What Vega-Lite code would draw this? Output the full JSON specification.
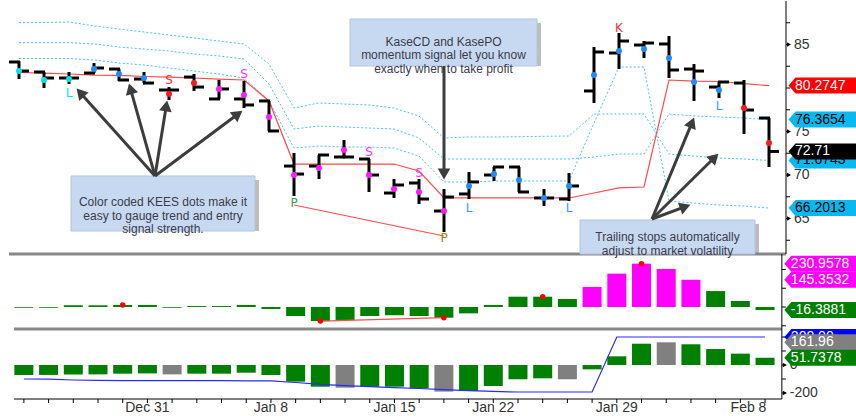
{
  "$schema": "https://vega.github.io/schema/vega-lite/v6.json",
  "background": "white",
  "padding": {"left": 7, "right": 0, "top": 0, "bottom": 0},
  "spacing": 0,
  "bounds": "flush",
  "config": {"view": {"stroke": null}, "font": "Liberation Sans"},
  "datasets": {
    "bars": [
      {"i":0,"o":82.99,"h":83.10,"l":81.03,"c":81.95,"kd":81.95,"ks":"c","po":-4,"ps":"g","cd":-71,"cs":"g","stop":81.78,"b1":87.51,"b2":85.21,"b3":83.39,"cdl":-100},
      {"i":1,"o":81.84,"h":81.84,"l":80.00,"c":81.15,"kd":80.92,"ks":"c","po":-4,"ps":"g","cd":-71,"cs":"g","stop":81.72,"b1":87.53,"b2":85.21,"b3":83.39,"cdl":-101},
      {"i":2,"o":81.15,"h":81.84,"l":80.46,"c":81.15,"kd":81.03,"ks":"c","po":9,"ps":"g","cd":-67,"cs":"g","stop":81.61,"b1":87.59,"b2":85.21,"b3":83.39,"cdl":-107},
      {"i":3,"o":81.72,"h":82.87,"l":81.72,"c":82.30,"kd":82.18,"ks":"b","po":9,"ps":"g","cd":-67,"cs":"g","stop":81.49,"b1":87.13,"b2":85.06,"b3":83.22,"cdl":-110},
      {"i":4,"o":82.18,"h":82.18,"l":80.80,"c":80.92,"kd":81.61,"ks":"b","po":11,"ps":"g","cd":-62,"cs":"g","stop":81.44,"b1":86.78,"b2":84.71,"b3":82.87,"cdl":-111},
      {"i":5,"o":81.03,"h":81.84,"l":80.57,"c":80.57,"kd":81.15,"ks":"b","po":11,"ps":"g","cd":-60,"cs":"g","stop":81.32,"b1":86.44,"b2":84.48,"b3":82.64,"cdl":-111},
      {"i":6,"o":79.77,"h":80.11,"l":78.62,"c":79.77,"kd":79.31,"ks":"r","po":-4,"ps":"g","cd":-67,"cs":"n","stop":81.26,"b1":86.09,"b2":84.25,"b3":82.30,"cdl":-111},
      {"i":7,"o":81.26,"h":81.61,"l":79.66,"c":80.11,"kd":80.57,"ks":"r","po":5,"ps":"g","cd":-62,"cs":"g","stop":81.15,"b1":85.75,"b2":83.91,"b3":81.95,"cdl":-112},
      {"i":8,"o":78.74,"h":80.92,"l":78.74,"c":79.89,"kd":79.89,"ks":"m","po":5,"ps":"g","cd":-62,"cs":"g","stop":81.03,"b1":85.40,"b2":83.68,"b3":81.61,"cdl":-112},
      {"i":9,"o":78.74,"h":80.80,"l":77.70,"c":78.05,"kd":79.20,"ks":"m","po":11,"ps":"g","cd":-55,"cs":"g","stop":80.92,"b1":85.06,"b2":83.33,"b3":81.15,"cdl":-113},
      {"i":10,"o":78.51,"h":78.51,"l":75.06,"c":75.06,"kd":76.67,"ks":"m","po":-11,"ps":"g","cd":-71,"cs":"g","stop":78.51,"b1":82.76,"b2":80.46,"b3":78.51,"cdl":-114},
      {"i":11,"o":71.03,"h":72.53,"l":67.59,"c":70.11,"kd":70.00,"ks":"m","po":-48,"ps":"g","cd":-119,"cs":"g","stop":71.26,"b1":77.70,"b2":75.29,"b3":73.10,"cdl":-125},
      {"i":12,"o":71.03,"h":72.30,"l":69.54,"c":72.30,"kd":70.80,"ks":"m","po":-75,"ps":"g","cd":-155,"cs":"g","stop":71.26,"b1":78.28,"b2":75.63,"b3":73.33,"cdl":-138},
      {"i":13,"o":72.07,"h":74.02,"l":71.95,"c":72.07,"kd":72.87,"ks":"m","po":-69,"ps":"g","cd":-162,"cs":"n","stop":71.26,"b1":78.16,"b2":75.52,"b3":73.22,"cdl":-147},
      {"i":14,"o":71.84,"h":71.84,"l":68.05,"c":70.00,"kd":70.00,"ks":"m","po":-48,"ps":"g","cd":-155,"cs":"g","stop":71.26,"b1":78.05,"b2":75.40,"b3":73.22,"cdl":-155},
      {"i":15,"o":67.93,"h":69.54,"l":67.36,"c":68.85,"kd":68.39,"ks":"m","po":-44,"ps":"g","cd":-155,"cs":"g","stop":71.26,"b1":77.70,"b2":75.29,"b3":73.10,"cdl":-162},
      {"i":16,"o":69.08,"h":69.54,"l":66.67,"c":67.24,"kd":68.05,"ks":"m","po":-48,"ps":"g","cd":-167,"cs":"g","stop":70.46,"b1":76.78,"b2":74.25,"b3":72.18,"cdl":-168},
      {"i":17,"o":65.86,"h":68.39,"l":63.45,"c":67.47,"kd":65.86,"ks":"m","po":-57,"ps":"g","cd":-190,"cs":"n","stop":67.36,"b1":74.25,"b2":71.84,"b3":69.20,"cdl":-176},
      {"i":18,"o":67.82,"h":70.34,"l":67.24,"c":69.20,"kd":68.74,"ks":"b","po":-34,"ps":"g","cd":-186,"cs":"g","stop":67.36,"b1":74.37,"b2":71.84,"b3":69.20,"cdl":-183},
      {"i":19,"o":70.00,"h":70.92,"l":69.31,"c":70.92,"kd":70.11,"ks":"b","po":11,"ps":"g","cd":-150,"cs":"g","stop":67.36,"b1":74.37,"b2":71.84,"b3":69.31,"cdl":-189},
      {"i":20,"o":70.92,"h":70.92,"l":68.05,"c":68.05,"kd":69.43,"ks":"b","po":55,"ps":"g","cd":-102,"cs":"g","stop":67.36,"b1":74.40,"b2":71.84,"b3":69.31,"cdl":-193},
      {"i":21,"o":67.36,"h":68.39,"l":66.44,"c":67.36,"kd":67.36,"ks":"b","po":55,"ps":"g","cd":-95,"cs":"g","stop":67.36,"b1":74.45,"b2":71.84,"b3":69.31,"cdl":-193},
      {"i":22,"o":67.24,"h":70.23,"l":67.01,"c":68.74,"kd":68.74,"ks":"b","po":43,"ps":"g","cd":-102,"cs":"n","stop":67.36,"b1":74.48,"b2":71.84,"b3":69.31,"cdl":-193},
      {"i":23,"o":79.66,"h":84.71,"l":78.28,"c":84.14,"kd":81.49,"ks":"b","po":107,"ps":"m","cd":-31,"cs":"g","stop":67.93,"b1":77.01,"b2":72.07,"b3":75.98,"cdl":-193},
      {"i":24,"o":84.02,"h":86.32,"l":82.18,"c":85.40,"kd":84.25,"ks":"b","po":178,"ps":"m","cd":62,"cs":"g","stop":68.51,"b1":77.01,"b2":72.41,"b3":82.41,"cdl":200},
      {"i":25,"o":84.94,"h":85.40,"l":83.45,"c":85.17,"kd":84.48,"ks":"b","po":230.96,"ps":"m","cd":152,"cs":"g","stop":68.62,"b1":77.01,"b2":72.41,"b3":82.41,"cdl":200},
      {"i":26,"o":85.06,"h":85.98,"l":81.15,"c":82.07,"kd":83.45,"ks":"b","po":203,"ps":"m","cd":161.96,"cs":"n","stop":80.92,"b1":72.41,"b2":77.01,"b3":67.01,"cdl":200},
      {"i":27,"o":82.18,"h":82.76,"l":78.51,"c":81.95,"kd":80.69,"ks":"b","po":145.35,"ps":"m","cd":148,"cs":"g","stop":80.80,"b1":72.18,"b2":76.78,"b3":66.78,"cdl":200},
      {"i":28,"o":80.11,"h":80.69,"l":78.85,"c":80.69,"kd":79.77,"ks":"b","po":85,"ps":"g","cd":114,"cs":"g","stop":80.75,"b1":71.95,"b2":76.67,"b3":66.55,"cdl":200},
      {"i":29,"o":80.57,"h":80.92,"l":74.71,"c":77.47,"kd":77.70,"ks":"r","po":32,"ps":"g","cd":81,"cs":"g","stop":80.50,"b1":71.84,"b2":76.55,"b3":66.44,"cdl":200},
      {"i":30,"o":76.55,"h":76.55,"l":70.92,"c":72.71,"kd":73.68,"ks":"r","po":-16.39,"ps":"g","cd":51.74,"cs":"g","stop":80.27,"b1":71.67,"b2":76.37,"b3":66.20,"cdl":200}
    ],
    "letters": [
      {"i":2,"v":79.43,"t":"L","k":"Lc"},{"i":6,"v":80.92,"t":"S","k":"Sr"},{"i":9,"v":81.61,"t":"S","k":"Sm"},
      {"i":11,"v":66.78,"t":"P","k":"Pg"},{"i":14,"v":72.64,"t":"S","k":"Sm"},{"i":16,"v":70.23,"t":"S","k":"Sm"},
      {"i":17,"v":62.76,"t":"P","k":"Po"},{"i":18,"v":66.21,"t":"L","k":"Lb"},{"i":22,"v":66.21,"t":"L","k":"Lb"},
      {"i":24,"v":86.9,"t":"K","k":"Kr"},{"i":28,"v":77.93,"t":"L","k":"Lb"}
    ],
    "pline1": [{"i":11,"v":66.55},{"i":17,"v":62.99}],
    "pline2": [{"i":12,"v":-75},{"i":17,"v":-57}],
    "podots": [{"i":4,"v":11},{"i":12,"v":-75},{"i":17,"v":-57},{"i":21,"v":55},{"i":25,"v":230.96}],
    "tags1": [
      {"v":80.2747,"lbl":"80.2747","k":"stop"},{"v":76.3654,"lbl":"76.3654","k":"band"},
      {"v":71.6743,"lbl":"71.6743","k":"band"},{"v":66.2013,"lbl":"66.2013","k":"band"},
      {"v":72.71,"lbl":"72.71","k":"close"}
    ],
    "tags2": [
      {"v":230.9578,"lbl":"230.9578","k":"pom"},{"v":145.3532,"lbl":"145.3532","k":"pom"},{"v":-16.3881,"lbl":"-16.3881","k":"pog"}
    ],
    "tags3": [
      {"v":200,"lbl":"200.00","k":"cdl"},{"v":161.96,"lbl":"161.96","k":"cdn"},{"v":51.7378,"lbl":"51.7378","k":"cdg"}
    ],
    "yt1": [
      {"v":62.5,"lbl":""},{"v":65,"lbl":"65"},{"v":67.5,"lbl":""},{"v":70,"lbl":"70"},{"v":72.5,"lbl":""},{"v":75,"lbl":"75"},
      {"v":77.5,"lbl":""},{"v":80,"lbl":""},{"v":82.5,"lbl":""},{"v":85,"lbl":"85"},{"v":87.5,"lbl":""}
    ],
    "yt2": [{"v":-100,"lbl":""},{"v":0,"lbl":""},{"v":100,"lbl":""},{"v":200,"lbl":""}],
    "yt3": [{"v":-200,"lbl":"-200"},{"v":-100,"lbl":""},{"v":0,"lbl":"0"},{"v":100,"lbl":""},{"v":200,"lbl":""}],
    "xt": [
      {"i":0},{"i":1},{"i":2},{"i":3},{"i":4},{"i":5},{"i":6},{"i":7},{"i":8},{"i":9},{"i":10},{"i":11},{"i":12},{"i":13},{"i":14},{"i":15},
      {"i":16},{"i":17},{"i":18},{"i":19},{"i":20},{"i":21},{"i":22},{"i":23},{"i":24},{"i":25},{"i":26},{"i":27},{"i":28},{"i":29},{"i":30}
    ],
    "xl": [
      {"i":5,"lbl":"Dec 31"},{"i":10,"lbl":"Jan 8"},{"i":15,"lbl":"Jan 15"},{"i":19,"lbl":"Jan 22"},{"i":24,"lbl":"Jan 29"},{"i":29.33,"lbl":"Feb 8"}
    ],
    "boxes": [
      {"i":2.08,"i2":9.44,"v":69.89,"v2":63.56},
      {"i":13.24,"i2":20.72,"v":87.93,"v2":82.53},
      {"i":22.44,"i2":29.44,"v":64.83,"v2":60.92}
    ],
    "btext": [
      {"i":5.76,"v":66.84,"t":"Color coded KEES dots make it\neasy to gauge trend and entry\nsignal strength."},
      {"i":16.98,"v":85.29,"t":"KaseCD and KasePO\nmomentum signal let you know\nexactly when to take profit"},
      {"i":25.94,"v":62.82,"t":"Trailing stops automatically\nadjust to market volatility"}
    ],
    "arrows": [
      {"i":5.44,"v":69.89,"i2":2.45,"v2":79.46},
      {"i":5.44,"v":69.89,"i2":4.46,"v2":79.91},
      {"i":5.44,"v":69.89,"i2":5.89,"v2":77.94},
      {"i":5.44,"v":69.89,"i2":8.76,"v2":77.01},
      {"i":17,"v":82.53,"i2":17,"v2":70.11},
      {"i":25.32,"v":64.94,"i2":26.92,"v2":76.02},
      {"i":25.32,"v":64.94,"i2":27.82,"v2":72.01},
      {"i":25.32,"v":64.94,"i2":26.65,"v2":66.36}
    ],
    "heads": [
      {"id":1,"i":2.45,"v":79.46},{"id":2,"i":4.46,"v":79.91},{"id":3,"i":5.89,"v":77.94},{"id":4,"i":8.76,"v":77.01},
      {"id":5,"i":17,"v":70.11},{"id":6,"i":26.92,"v":76.02},{"id":7,"i":27.82,"v":72.01},{"id":8,"i":26.65,"v":66.36}
    ]
  },
  "vconcat": [
    {
      "width": 849, "height": 253,
      "layer": [
        {"data":{"name":"bars"},"mark":{"type":"line","color":"#46c4f0","strokeWidth":1,"strokeDash":[2,2]},
         "encoding":{"x":{"field":"i","type":"quantitative","scale":{"domain":[-0.4,33.56],"nice":false,"zero":false},"axis":null},
           "y":{"field":"b1","type":"quantitative","scale":{"domain":[60.92,90],"nice":false,"zero":false},"axis":null}}},
        {"data":{"name":"bars"},"mark":{"type":"line","color":"#46c4f0","strokeWidth":1,"strokeDash":[2,2]},
         "encoding":{"x":{"field":"i","type":"quantitative","scale":{"domain":[-0.4,33.56],"nice":false,"zero":false},"axis":null},
           "y":{"field":"b2","type":"quantitative","scale":{"domain":[60.92,90],"nice":false,"zero":false},"axis":null}}},
        {"data":{"name":"bars"},"mark":{"type":"line","color":"#46c4f0","strokeWidth":1,"strokeDash":[2,2]},
         "encoding":{"x":{"field":"i","type":"quantitative","scale":{"domain":[-0.4,33.56],"nice":false,"zero":false},"axis":null},
           "y":{"field":"b3","type":"quantitative","scale":{"domain":[60.92,90],"nice":false,"zero":false},"axis":null}}},
        {"data":{"name":"bars"},"mark":{"type":"line","color":"#ff4a4a","strokeWidth":1.2},
         "encoding":{"x":{"field":"i","type":"quantitative","scale":{"domain":[-0.4,33.56],"nice":false,"zero":false},"axis":null},
           "y":{"field":"stop","type":"quantitative","scale":{"domain":[60.92,90],"nice":false,"zero":false},"axis":null}}},
        {"data":{"name":"pline1"},"mark":{"type":"line","color":"#ff4a4a","strokeWidth":1.2},
         "encoding":{"x":{"field":"i","type":"quantitative","scale":{"domain":[-0.4,33.56],"nice":false,"zero":false},"axis":null},
           "y":{"field":"v","type":"quantitative","scale":{"domain":[60.92,90],"nice":false,"zero":false},"axis":null}}},
        {"data":{"name":"bars"},"mark":{"type":"rule","color":"#000000","strokeWidth":3},
         "encoding":{"x":{"field":"i","type":"quantitative","scale":{"domain":[-0.4,33.56],"nice":false,"zero":false},"axis":null},
           "y":{"field":"h","type":"quantitative","scale":{"domain":[60.92,90],"nice":false,"zero":false},"axis":null},"y2":{"field":"l"}}},
        {"data":{"name":"bars"},"mark":{"type":"rule","color":"#000000","strokeWidth":3,"xOffset":-10,"x2Offset":1},
         "encoding":{"x":{"field":"i","type":"quantitative","scale":{"domain":[-0.4,33.56],"nice":false,"zero":false},"axis":null},"x2":{"field":"i"},
           "y":{"field":"o","type":"quantitative","scale":{"domain":[60.92,90],"nice":false,"zero":false},"axis":null}}},
        {"data":{"name":"bars"},"mark":{"type":"rule","color":"#000000","strokeWidth":3,"xOffset":-1,"x2Offset":10},
         "encoding":{"x":{"field":"i","type":"quantitative","scale":{"domain":[-0.4,33.56],"nice":false,"zero":false},"axis":null},"x2":{"field":"i"},
           "y":{"field":"c","type":"quantitative","scale":{"domain":[60.92,90],"nice":false,"zero":false},"axis":null}}},
        {"data":{"name":"bars"},"mark":{"type":"point","filled":true,"size":36,"opacity":1},
         "encoding":{"x":{"field":"i","type":"quantitative","scale":{"domain":[-0.4,33.56],"nice":false,"zero":false},"axis":null},
           "y":{"field":"kd","type":"quantitative","scale":{"domain":[60.92,90],"nice":false,"zero":false},"axis":null},
           "color":{"field":"ks","type":"nominal","scale":{"domain":["c","b","r","m"],"range":["#00e1f0","#1e8cff","#ff1a1a","#ff1aff"]},"legend":null}}},
        {"data":{"name":"letters"},"mark":{"type":"text","font":"DejaVu Sans","fontSize":12,"baseline":"middle","align":"center"},
         "encoding":{"x":{"field":"i","type":"quantitative","scale":{"domain":[-0.4,33.56],"nice":false,"zero":false},"axis":null},
           "y":{"field":"v","type":"quantitative","scale":{"domain":[60.92,90],"nice":false,"zero":false},"axis":null},"text":{"field":"t"},
           "color":{"field":"k","type":"nominal","scale":{"domain":["Lc","Sr","Sm","Pg","Po","Lb","Kr"],"range":["#00e5ff","#ff3030","#ff33ff","#3c9c3c","#8c8c14","#3399ff","#ff3030"]},"legend":null}}},
        {"data":{"values":[{}]},"mark":{"type":"rule","color":"#888888","strokeWidth":3},
         "encoding":{"x":{"datum":-0.4,"type":"quantitative","scale":{"domain":[-0.4,33.56],"nice":false,"zero":false},"axis":null},"x2":{"datum":30.68},
           "y":{"datum":60.92,"type":"quantitative","scale":{"domain":[60.92,90],"nice":false,"zero":false},"axis":null}}},
        {"data":{"values":[{}]},"mark":{"type":"rule","color":"#000000","strokeWidth":1},
         "encoding":{"x":{"datum":30.68,"type":"quantitative","scale":{"domain":[-0.4,33.56],"nice":false,"zero":false},"axis":null},
           "y":{"datum":60.92,"type":"quantitative","scale":{"domain":[60.92,90],"nice":false,"zero":false},"axis":null},"y2":{"datum":90}}},
        {"data":{"name":"yt1"},"mark":{"type":"rule","color":"#000000","strokeWidth":1,"x2Offset":4},
         "encoding":{"x":{"datum":30.68,"type":"quantitative","scale":{"domain":[-0.4,33.56],"nice":false,"zero":false},"axis":null},"x2":{"datum":30.68},
           "y":{"field":"v","type":"quantitative","scale":{"domain":[60.92,90],"nice":false,"zero":false},"axis":null}}},
        {"data":{"name":"yt1"},"transform":[{"filter":"datum.lbl != ''"}],"mark":{"type":"point","shape":"triangle-right","filled":true,"size":22,"color":"#000000","opacity":1,"xOffset":3},
         "encoding":{"x":{"datum":30.68,"type":"quantitative","scale":{"domain":[-0.4,33.56],"nice":false,"zero":false},"axis":null},
           "y":{"field":"v","type":"quantitative","scale":{"domain":[60.92,90],"nice":false,"zero":false},"axis":null}}},
        {"data":{"name":"yt1"},"transform":[{"filter":"datum.lbl != ''"}],"mark":{"type":"text","align":"left","baseline":"middle","dx":8,"font":"Liberation Sans","fontSize":14,"color":"#333333"},
         "encoding":{"x":{"datum":30.68,"type":"quantitative","scale":{"domain":[-0.4,33.56],"nice":false,"zero":false},"axis":null},
           "y":{"field":"v","type":"quantitative","scale":{"domain":[60.92,90],"nice":false,"zero":false},"axis":null},"text":{"field":"lbl"}}},
        {"data":{"name":"tags1"},"transform":[{"filter":"datum.k != 'close'"}],"mark":{"type":"point","shape":"M0.25,0 L0.95,-0.8 L8,-0.8 L8,0.8 L0.95,0.8 Z","filled":true,"size":400,"opacity":1,"strokeWidth":0},
         "encoding":{"x":{"datum":30.68,"type":"quantitative","scale":{"domain":[-0.4,33.56],"nice":false,"zero":false},"axis":null},
           "y":{"field":"v","type":"quantitative","scale":{"domain":[60.92,90],"nice":false,"zero":false},"axis":null},
           "color":{"field":"k","type":"nominal","scale":{"domain":["stop","band","close"],"range":["#ff0000","#08b8f0","#000000"]},"legend":null}}},
        {"data":{"name":"tags1"},"transform":[{"filter":"datum.k != 'close'"}],"mark":{"type":"text","align":"left","baseline":"middle","dx":9,"font":"Liberation Sans","fontSize":14},
         "encoding":{"x":{"datum":30.68,"type":"quantitative","scale":{"domain":[-0.4,33.56],"nice":false,"zero":false},"axis":null},
           "y":{"field":"v","type":"quantitative","scale":{"domain":[60.92,90],"nice":false,"zero":false},"axis":null},"text":{"field":"lbl"},
           "color":{"field":"k","type":"nominal","scale":{"domain":["stop","band","close"],"range":["#ffffff","#000000","#ffffff"]},"legend":null}}},
        {"data":{"name":"tags1"},"transform":[{"filter":"datum.k == 'close'"}],"mark":{"type":"point","shape":"M0.25,0 L0.95,-0.8 L8,-0.8 L8,0.8 L0.95,0.8 Z","filled":true,"size":400,"opacity":1,"strokeWidth":0,"color":"#000000"},
         "encoding":{"x":{"datum":30.68,"type":"quantitative","scale":{"domain":[-0.4,33.56],"nice":false,"zero":false},"axis":null},
           "y":{"field":"v","type":"quantitative","scale":{"domain":[60.92,90],"nice":false,"zero":false},"axis":null}}},
        {"data":{"name":"tags1"},"transform":[{"filter":"datum.k == 'close'"}],"mark":{"type":"text","align":"left","baseline":"middle","dx":9,"font":"Liberation Sans","fontSize":14,"color":"#ffffff"},
         "encoding":{"x":{"datum":30.68,"type":"quantitative","scale":{"domain":[-0.4,33.56],"nice":false,"zero":false},"axis":null},
           "y":{"field":"v","type":"quantitative","scale":{"domain":[60.92,90],"nice":false,"zero":false},"axis":null},"text":{"field":"lbl"}}},
        {"data":{"name":"boxes"},"mark":{"type":"rect","fill":"#7a7a7a","opacity":0.5,"xOffset":4,"x2Offset":4,"yOffset":4,"y2Offset":0},
         "encoding":{"x":{"field":"i","type":"quantitative","scale":{"domain":[-0.4,33.56],"nice":false,"zero":false},"axis":null},"x2":{"field":"i2"},
           "y":{"field":"v","type":"quantitative","scale":{"domain":[60.92,90],"nice":false,"zero":false},"axis":null},"y2":{"field":"v2"}}},
        {"data":{"name":"boxes"},"mark":{"type":"rect","fill":"#c6d9f1","stroke":"#b2c6e0","strokeWidth":1},
         "encoding":{"x":{"field":"i","type":"quantitative","scale":{"domain":[-0.4,33.56],"nice":false,"zero":false},"axis":null},"x2":{"field":"i2"},
           "y":{"field":"v","type":"quantitative","scale":{"domain":[60.92,90],"nice":false,"zero":false},"axis":null},"y2":{"field":"v2"}}},
        {"data":{"name":"btext"},"mark":{"type":"text","font":"Liberation Sans","fontSize":12,"color":"#3b3b4a","lineBreak":"\n","lineHeight":13.5,"align":"center","baseline":"middle"},
         "encoding":{"x":{"field":"i","type":"quantitative","scale":{"domain":[-0.4,33.56],"nice":false,"zero":false},"axis":null},
           "y":{"field":"v","type":"quantitative","scale":{"domain":[60.92,90],"nice":false,"zero":false},"axis":null},"text":{"field":"t"}}},
        {"data":{"name":"arrows"},"mark":{"type":"rule","color":"#3d3d3d","strokeWidth":3},
         "encoding":{"x":{"field":"i","type":"quantitative","scale":{"domain":[-0.4,33.56],"nice":false,"zero":false},"axis":null},"x2":{"field":"i2"},
           "y":{"field":"v","type":"quantitative","scale":{"domain":[60.92,90],"nice":false,"zero":false},"axis":null},"y2":{"field":"v2"}}},
        {"data":{"name":"heads"},"transform":[{"filter":"datum.id == 1"}],"mark":{"type":"point","shape":"triangle-up","filled":true,"size":160,"color":"#3d3d3d","opacity":1,"angle":-41.9},
         "encoding":{"x":{"field":"i","type":"quantitative","scale":{"domain":[-0.4,33.56],"nice":false,"zero":false},"axis":null},
           "y":{"field":"v","type":"quantitative","scale":{"domain":[60.92,90],"nice":false,"zero":false},"axis":null}}},
        {"data":{"name":"heads"},"transform":[{"filter":"datum.id == 2"}],"mark":{"type":"point","shape":"triangle-up","filled":true,"size":160,"color":"#3d3d3d","opacity":1,"angle":-15.8},
         "encoding":{"x":{"field":"i","type":"quantitative","scale":{"domain":[-0.4,33.56],"nice":false,"zero":false},"axis":null},
           "y":{"field":"v","type":"quantitative","scale":{"domain":[60.92,90],"nice":false,"zero":false},"axis":null}}},
        {"data":{"name":"heads"},"transform":[{"filter":"datum.id == 3"}],"mark":{"type":"point","shape":"triangle-up","filled":true,"size":160,"color":"#3d3d3d","opacity":1,"angle":9.1},
         "encoding":{"x":{"field":"i","type":"quantitative","scale":{"domain":[-0.4,33.56],"nice":false,"zero":false},"axis":null},
           "y":{"field":"v","type":"quantitative","scale":{"domain":[60.92,90],"nice":false,"zero":false},"axis":null}}},
        {"data":{"name":"heads"},"transform":[{"filter":"datum.id == 4"}],"mark":{"type":"point","shape":"triangle-up","filled":true,"size":160,"color":"#3d3d3d","opacity":1,"angle":53.2},
         "encoding":{"x":{"field":"i","type":"quantitative","scale":{"domain":[-0.4,33.56],"nice":false,"zero":false},"axis":null},
           "y":{"field":"v","type":"quantitative","scale":{"domain":[60.92,90],"nice":false,"zero":false},"axis":null}}},
        {"data":{"name":"heads"},"transform":[{"filter":"datum.id == 5"}],"mark":{"type":"point","shape":"triangle-up","filled":true,"size":160,"color":"#3d3d3d","opacity":1,"angle":180},
         "encoding":{"x":{"field":"i","type":"quantitative","scale":{"domain":[-0.4,33.56],"nice":false,"zero":false},"axis":null},
           "y":{"field":"v","type":"quantitative","scale":{"domain":[60.92,90],"nice":false,"zero":false},"axis":null}}},
        {"data":{"name":"heads"},"transform":[{"filter":"datum.id == 6"}],"mark":{"type":"point","shape":"triangle-up","filled":true,"size":160,"color":"#3d3d3d","opacity":1,"angle":22.6},
         "encoding":{"x":{"field":"i","type":"quantitative","scale":{"domain":[-0.4,33.56],"nice":false,"zero":false},"axis":null},
           "y":{"field":"v","type":"quantitative","scale":{"domain":[60.92,90],"nice":false,"zero":false},"axis":null}}},
        {"data":{"name":"heads"},"transform":[{"filter":"datum.id == 7"}],"mark":{"type":"point","shape":"triangle-up","filled":true,"size":160,"color":"#3d3d3d","opacity":1,"angle":45.4},
         "encoding":{"x":{"field":"i","type":"quantitative","scale":{"domain":[-0.4,33.56],"nice":false,"zero":false},"axis":null},
           "y":{"field":"v","type":"quantitative","scale":{"domain":[60.92,90],"nice":false,"zero":false},"axis":null}}},
        {"data":{"name":"heads"},"transform":[{"filter":"datum.id == 8"}],"mark":{"type":"point","shape":"triangle-up","filled":true,"size":160,"color":"#3d3d3d","opacity":1,"angle":69.8},
         "encoding":{"x":{"field":"i","type":"quantitative","scale":{"domain":[-0.4,33.56],"nice":false,"zero":false},"axis":null},
           "y":{"field":"v","type":"quantitative","scale":{"domain":[60.92,90],"nice":false,"zero":false},"axis":null}}}
      ],
      "resolve": {"scale": {"color": "independent"}}
    },
    {
      "width": 849, "height": 75,
      "layer": [
        {"data":{"name":"bars"},"mark":{"type":"bar","size":19,"orient":"vertical"},
         "encoding":{"x":{"field":"i","type":"quantitative","scale":{"domain":[-0.4,33.56],"nice":false,"zero":false},"axis":null},
           "y":{"field":"po","type":"quantitative","scale":{"domain":[-117.3,282.7],"nice":false,"zero":false},"axis":null},
           "color":{"field":"ps","type":"nominal","scale":{"domain":["g","m"],"range":["#008000","#ff00ff"]},"legend":null}}},
        {"data":{"name":"pline2"},"mark":{"type":"line","color":"#ff4a4a","strokeWidth":1.2},
         "encoding":{"x":{"field":"i","type":"quantitative","scale":{"domain":[-0.4,33.56],"nice":false,"zero":false},"axis":null},
           "y":{"field":"v","type":"quantitative","scale":{"domain":[-117.3,282.7],"nice":false,"zero":false},"axis":null}}},
        {"data":{"name":"podots"},"mark":{"type":"point","filled":true,"size":30,"opacity":1,"color":"#ff0000"},
         "encoding":{"x":{"field":"i","type":"quantitative","scale":{"domain":[-0.4,33.56],"nice":false,"zero":false},"axis":null},
           "y":{"field":"v","type":"quantitative","scale":{"domain":[-117.3,282.7],"nice":false,"zero":false},"axis":null}}},
        {"data":{"values":[{}]},"mark":{"type":"rule","color":"#888888","strokeWidth":3},
         "encoding":{"x":{"datum":-0.4,"type":"quantitative","scale":{"domain":[-0.4,33.56],"nice":false,"zero":false},"axis":null},"x2":{"datum":30.68},
           "y":{"datum":-117.3,"type":"quantitative","scale":{"domain":[-117.3,282.7],"nice":false,"zero":false},"axis":null}}},
        {"data":{"values":[{}]},"mark":{"type":"rule","color":"#000000","strokeWidth":1},
         "encoding":{"x":{"datum":30.68,"type":"quantitative","scale":{"domain":[-0.4,33.56],"nice":false,"zero":false},"axis":null},
           "y":{"datum":-117.3,"type":"quantitative","scale":{"domain":[-117.3,282.7],"nice":false,"zero":false},"axis":null},"y2":{"datum":282.7}}},
        {"data":{"name":"yt2"},"mark":{"type":"rule","color":"#000000","strokeWidth":1,"x2Offset":4},
         "encoding":{"x":{"datum":30.68,"type":"quantitative","scale":{"domain":[-0.4,33.56],"nice":false,"zero":false},"axis":null},"x2":{"datum":30.68},
           "y":{"field":"v","type":"quantitative","scale":{"domain":[-117.3,282.7],"nice":false,"zero":false},"axis":null}}},
        {"data":{"name":"tags2"},"mark":{"type":"point","shape":"M0.25,0 L0.95,-0.8 L8,-0.8 L8,0.8 L0.95,0.8 Z","filled":true,"size":400,"opacity":1,"strokeWidth":0},
         "encoding":{"x":{"datum":30.68,"type":"quantitative","scale":{"domain":[-0.4,33.56],"nice":false,"zero":false},"axis":null},
           "y":{"field":"v","type":"quantitative","scale":{"domain":[-117.3,282.7],"nice":false,"zero":false},"axis":null},
           "color":{"field":"k","type":"nominal","scale":{"domain":["pom","pog"],"range":["#ff00ff","#008000"]},"legend":null}}},
        {"data":{"name":"tags2"},"mark":{"type":"text","align":"left","baseline":"middle","dx":9,"font":"Liberation Sans","fontSize":14,"color":"#ffffff"},
         "encoding":{"x":{"datum":30.68,"type":"quantitative","scale":{"domain":[-0.4,33.56],"nice":false,"zero":false},"axis":null},
           "y":{"field":"v","type":"quantitative","scale":{"domain":[-117.3,282.7],"nice":false,"zero":false},"axis":null},"text":{"field":"lbl"}}}
      ],
      "resolve": {"scale": {"color": "independent"}}
    },
    {
      "width": 849, "height": 88,
      "layer": [
        {"data":{"name":"bars"},"mark":{"type":"bar","size":19,"orient":"vertical"},
         "encoding":{"x":{"field":"i","type":"quantitative","scale":{"domain":[-0.4,33.56],"nice":false,"zero":false},"axis":null},
           "y":{"field":"cd","type":"quantitative","scale":{"domain":[-371.4,257.1],"nice":false,"zero":false},"axis":null},
           "color":{"field":"cs","type":"nominal","scale":{"domain":["g","n"],"range":["#008000","#808080"]},"legend":null}}},
        {"data":{"name":"bars"},"mark":{"type":"line","color":"#2a2aff","strokeWidth":1.2},
         "encoding":{"x":{"field":"i","type":"quantitative","scale":{"domain":[-0.4,33.56],"nice":false,"zero":false},"axis":null},
           "y":{"field":"cdl","type":"quantitative","scale":{"domain":[-371.4,257.1],"nice":false,"zero":false},"axis":null}}},
        {"data":{"values":[{}]},"mark":{"type":"rule","color":"#000000","strokeWidth":1},
         "encoding":{"x":{"datum":-0.4,"type":"quantitative","scale":{"domain":[-0.4,33.56],"nice":false,"zero":false},"axis":null},"x2":{"datum":30.68},
           "y":{"datum":-242.9,"type":"quantitative","scale":{"domain":[-371.4,257.1],"nice":false,"zero":false},"axis":null}}},
        {"data":{"values":[{}]},"mark":{"type":"rule","color":"#000000","strokeWidth":1},
         "encoding":{"x":{"datum":30.68,"type":"quantitative","scale":{"domain":[-0.4,33.56],"nice":false,"zero":false},"axis":null},
           "y":{"datum":-242.9,"type":"quantitative","scale":{"domain":[-371.4,257.1],"nice":false,"zero":false},"axis":null},"y2":{"datum":257.1}}},
        {"data":{"name":"xt"},"mark":{"type":"rule","color":"#000000","strokeWidth":1,"y2Offset":4},
         "encoding":{"x":{"field":"i","type":"quantitative","scale":{"domain":[-0.4,33.56],"nice":false,"zero":false},"axis":null},
           "y":{"datum":-242.9,"type":"quantitative","scale":{"domain":[-371.4,257.1],"nice":false,"zero":false},"axis":null},"y2":{"datum":-242.9}}},
        {"data":{"name":"xl"},"mark":{"type":"text","align":"center","baseline":"top","dy":2,"font":"Liberation Sans","fontSize":14,"color":"#333333"},
         "encoding":{"x":{"field":"i","type":"quantitative","scale":{"domain":[-0.4,33.56],"nice":false,"zero":false},"axis":null},
           "y":{"datum":-242.9,"type":"quantitative","scale":{"domain":[-371.4,257.1],"nice":false,"zero":false},"axis":null},"text":{"field":"lbl"}}},
        {"data":{"name":"yt3"},"mark":{"type":"rule","color":"#000000","strokeWidth":1,"x2Offset":4},
         "encoding":{"x":{"datum":30.68,"type":"quantitative","scale":{"domain":[-0.4,33.56],"nice":false,"zero":false},"axis":null},"x2":{"datum":30.68},
           "y":{"field":"v","type":"quantitative","scale":{"domain":[-371.4,257.1],"nice":false,"zero":false},"axis":null}}},
        {"data":{"name":"yt3"},"transform":[{"filter":"datum.lbl != ''"}],"mark":{"type":"point","shape":"triangle-right","filled":true,"size":22,"color":"#000000","opacity":1,"xOffset":3},
         "encoding":{"x":{"datum":30.68,"type":"quantitative","scale":{"domain":[-0.4,33.56],"nice":false,"zero":false},"axis":null},
           "y":{"field":"v","type":"quantitative","scale":{"domain":[-371.4,257.1],"nice":false,"zero":false},"axis":null}}},
        {"data":{"name":"yt3"},"transform":[{"filter":"datum.lbl != ''"}],"mark":{"type":"text","align":"left","baseline":"middle","dx":8,"font":"Liberation Sans","fontSize":14,"color":"#333333"},
         "encoding":{"x":{"datum":30.68,"type":"quantitative","scale":{"domain":[-0.4,33.56],"nice":false,"zero":false},"axis":null},
           "y":{"field":"v","type":"quantitative","scale":{"domain":[-371.4,257.1],"nice":false,"zero":false},"axis":null},"text":{"field":"lbl"}}},
        {"data":{"name":"tags3"},"transform":[{"filter":"datum.k == 'cdl'"}],"mark":{"type":"point","shape":"M0.25,0 L0.95,-0.8 L8,-0.8 L8,0.8 L0.95,0.8 Z","filled":true,"size":400,"opacity":1,"strokeWidth":0,"color":"#0000ff"},
         "encoding":{"x":{"datum":30.68,"type":"quantitative","scale":{"domain":[-0.4,33.56],"nice":false,"zero":false},"axis":null},
           "y":{"field":"v","type":"quantitative","scale":{"domain":[-371.4,257.1],"nice":false,"zero":false},"axis":null}}},
        {"data":{"name":"tags3"},"transform":[{"filter":"datum.k == 'cdl'"}],"mark":{"type":"text","align":"left","baseline":"middle","dx":9,"font":"Liberation Sans","fontSize":14,"color":"#ffffff"},
         "encoding":{"x":{"datum":30.68,"type":"quantitative","scale":{"domain":[-0.4,33.56],"nice":false,"zero":false},"axis":null},
           "y":{"field":"v","type":"quantitative","scale":{"domain":[-371.4,257.1],"nice":false,"zero":false},"axis":null},"text":{"field":"lbl"}}},
        {"data":{"name":"tags3"},"transform":[{"filter":"datum.k != 'cdl'"}],"mark":{"type":"point","shape":"M0.25,0 L0.95,-0.8 L8,-0.8 L8,0.8 L0.95,0.8 Z","filled":true,"size":400,"opacity":1,"strokeWidth":0},
         "encoding":{"x":{"datum":30.68,"type":"quantitative","scale":{"domain":[-0.4,33.56],"nice":false,"zero":false},"axis":null},
           "y":{"field":"v","type":"quantitative","scale":{"domain":[-371.4,257.1],"nice":false,"zero":false},"axis":null},
           "color":{"field":"k","type":"nominal","scale":{"domain":["cdn","cdg"],"range":["#808080","#008000"]},"legend":null}}},
        {"data":{"name":"tags3"},"transform":[{"filter":"datum.k != 'cdl'"}],"mark":{"type":"text","align":"left","baseline":"middle","dx":9,"font":"Liberation Sans","fontSize":14,"color":"#ffffff"},
         "encoding":{"x":{"datum":30.68,"type":"quantitative","scale":{"domain":[-0.4,33.56],"nice":false,"zero":false},"axis":null},
           "y":{"field":"v","type":"quantitative","scale":{"domain":[-371.4,257.1],"nice":false,"zero":false},"axis":null},"text":{"field":"lbl"}}}
      ],
      "resolve": {"scale": {"color": "independent"}}
    }
  ],
  "resolve": {"scale": {"x": "independent", "y": "independent", "color": "independent"}}
}
